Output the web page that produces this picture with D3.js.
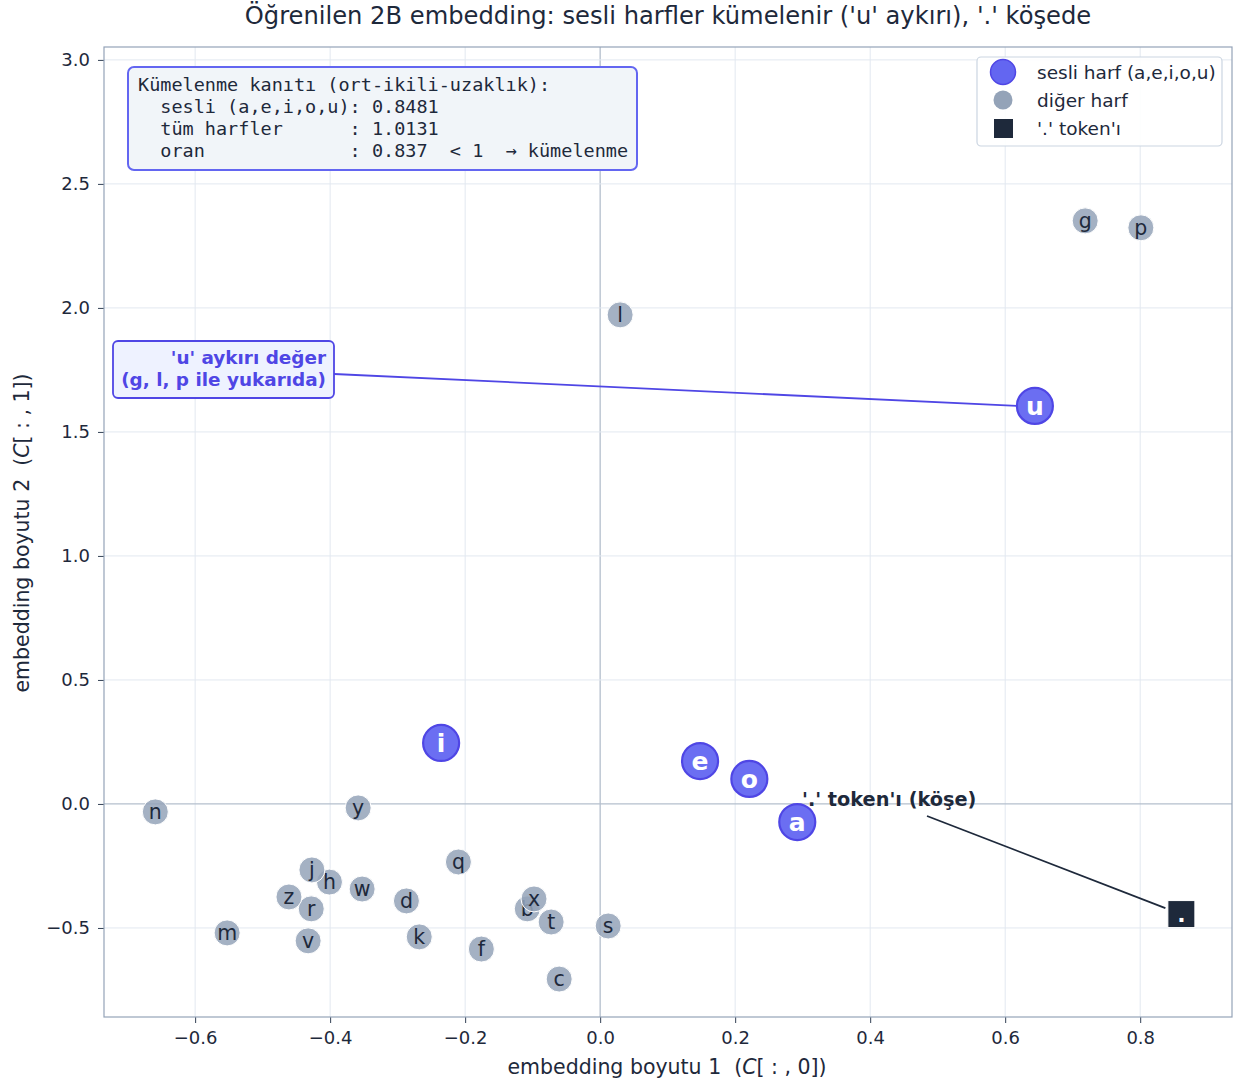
<!DOCTYPE html>
<html><head><meta charset="utf-8">
<script src="https://cdn.jsdelivr.net/npm/d3@7"></script>
<style>body{margin:0;background:#fff}svg{display:block}</style>
</head><body>
<script>
const letters = ["a","e","i","o","u","b","c","d","f","g","h","j","k","l","m","n","p","q","r","s","t","v","w","x","y","z","."];
const xs = [0.292,0.148,-0.2356,0.221,0.644,-0.108,-0.0607,-0.287,-0.176,0.7185,-0.401,-0.427,-0.268,0.0296,-0.5526,-0.659,0.801,-0.210,-0.428,0.0119,-0.0726,-0.4326,-0.3526,-0.098,-0.3585,-0.461,0.861];
const ys = [-0.073,0.173,0.246,0.101,1.605,-0.423,-0.706,-0.391,-0.585,2.351,-0.315,-0.266,-0.536,1.972,-0.520,-0.032,2.323,-0.234,-0.423,-0.492,-0.476,-0.552,-0.343,-0.383,-0.016,-0.375,-0.444];
const vowels = ["a","e","i","o","u"];
const xTicks = [-0.6,-0.4,-0.2,0.0,0.2,0.4,0.6,0.8];
const yTicks = [-0.5,0.0,0.5,1.0,1.5,2.0,2.5,3.0];
const xDomain = [-0.735,0.936];
const yDomain = [-0.859,3.052];
const boxLines = ["Kümelenme kanıtı (ort-ikili-uzaklık):","  sesli (a,e,i,o,u): 0.8481","  tüm harfler      : 1.0131","  oran             : 0.837  < 1  → kümelenme"];
const legendLabels = ["sesli harf (a,e,i,o,u)","diğer harf","'.' token'ı"];

const W=1235,H=1083;
const M={l:104,r:1232,t:47,b:1017};
const svg=d3.select("body").append("svg").attr("width",W).attr("height",H).style("font-family","DejaVu Sans");
const x=d3.scaleLinear().domain(xDomain).range([M.l,M.r]);
const y=d3.scaleLinear().domain(yDomain).range([M.b,M.t]);
const data=letters.map((c,i)=>({c,x:xs[i],y:ys[i]}));

// grid
svg.append("g").selectAll("line").data(xTicks).join("line")
 .attr("x1",d=>x(d)).attr("x2",d=>x(d)).attr("y1",M.t).attr("y2",M.b)
 .attr("stroke",d=>d===0?"#b4bfcd":"#e2e8f0").attr("stroke-width",d=>d===0?1.3:1);
svg.append("g").selectAll("line").data(yTicks).join("line")
 .attr("y1",d=>y(d)).attr("y2",d=>y(d)).attr("x1",M.l).attr("x2",M.r)
 .attr("stroke",d=>d===0?"#b4bfcd":"#e2e8f0").attr("stroke-width",d=>d===0?1.3:1);

// axes
const fmt=d=>d3.format(".1f")(d).replace("-","−");
const xa=svg.append("g").attr("transform",`translate(0,${M.b})`).call(d3.axisBottom(x).tickValues(xTicks).tickFormat(fmt).tickSize(6).tickPadding(8));
const ya=svg.append("g").attr("transform",`translate(${M.l},0)`).call(d3.axisLeft(y).tickValues(yTicks).tickFormat(fmt).tickSize(6).tickPadding(8));
[xa,ya].forEach(a=>{a.select(".domain").remove();a.selectAll("line").attr("stroke","#334155");a.selectAll("text").attr("font-size",18).attr("fill","#1e293b").attr("font-family","DejaVu Sans");});
svg.append("rect").attr("x",M.l).attr("y",M.t).attr("width",M.r-M.l).attr("height",M.b-M.t).attr("fill","none").attr("stroke","#94a3b8").attr("stroke-width",1.2);

// title & labels
svg.append("text").attr("x",668).attr("y",24).attr("text-anchor","middle").attr("font-size",24.2).attr("fill","#1e293b").text("Öğrenilen 2B embedding: sesli harfler kümelenir ('u' aykırı), '.' köşede");
const xl=svg.append("text").attr("x",667).attr("y",1074).attr("text-anchor","middle").attr("font-size",20.5).attr("fill","#1e293b").attr("xml:space","preserve").style("white-space","pre");
xl.append("tspan").text("embedding boyutu 1  (");xl.append("tspan").attr("font-style","italic").text("C");xl.append("tspan").text("[ : , 0])");
const yl=svg.append("text").attr("transform","translate(29,533) rotate(-90)").attr("text-anchor","middle").attr("font-size",20.5).attr("fill","#1e293b").attr("xml:space","preserve").style("white-space","pre");
yl.append("tspan").text("embedding boyutu 2  (");yl.append("tspan").attr("font-style","italic").text("C");yl.append("tspan").text("[ : , 1])");

// annotation lines (behind points)
const u=data.find(d=>d.c==="u"), dot=data.find(d=>d.c===".");
svg.append("line").attr("x1",334).attr("y1",374).attr("x2",x(u.x)-18).attr("y2",y(u.y)).attr("stroke","#4f46e5").attr("stroke-width",1.8);
svg.append("line").attr("x1",927).attr("y1",816).attr("x2",x(dot.x)-16).attr("y2",y(dot.y)-6).attr("stroke","#1e293b").attr("stroke-width",1.8);

// points
const others=data.filter(d=>!vowels.includes(d.c)&&d.c!==".");
const og=svg.append("g").selectAll("g").data(others).join("g").attr("transform",d=>`translate(${x(d.x)},${y(d.y)})`);
og.append("circle").attr("r",13).attr("fill","#94a3b8").attr("fill-opacity",0.85).attr("stroke","#fff").attr("stroke-width",1);
og.append("text").attr("text-anchor","middle").attr("dy","0.35em").attr("font-size",20.5).attr("fill","#1e293b").text(d=>d.c);

const vg=svg.append("g").selectAll("g").data(data.filter(d=>vowels.includes(d.c))).join("g").attr("transform",d=>`translate(${x(d.x)},${y(d.y)})`);
vg.append("circle").attr("r",18).attr("fill","#6366f1").attr("fill-opacity",0.95).attr("stroke","#4f46e5").attr("stroke-width",2.2);
vg.append("text").attr("text-anchor","middle").attr("dy","0.35em").attr("font-size",25).attr("font-weight","bold").attr("fill","#fff").text(d=>d.c);

const dg=svg.append("g").attr("transform",`translate(${x(dot.x)},${y(dot.y)})`);
dg.append("rect").attr("x",-13.5).attr("y",-13.5).attr("width",27).attr("height",27).attr("fill","#1e293b").attr("stroke","#fff").attr("stroke-width",1);
dg.append("text").attr("text-anchor","middle").attr("dy","0.35em").attr("font-size",22).attr("font-weight","bold").attr("fill","#fff").text(".");

// dot annotation text
svg.append("text").attr("x",802).attr("y",806).attr("font-size",19.3).attr("font-weight","bold").attr("fill","#1e293b").text("'.' token'ı (köşe)");

// u annotation box
svg.append("rect").attr("x",113).attr("y",341).attr("width",221).attr("height",57).attr("rx",5).attr("fill","#eef2ff").attr("stroke","#4f46e5").attr("stroke-width",1.8);
const ut=svg.append("text").attr("text-anchor","end").attr("font-size",18.4).attr("font-weight","bold").attr("fill","#4f46e5");
ut.append("tspan").attr("x",326).attr("y",364).text("'u' aykırı değer");
ut.append("tspan").attr("x",326).attr("y",386).text("(g, l, p ile yukarıda)");

// stats box
svg.append("rect").attr("x",128).attr("y",67).attr("width",509).attr("height",103).attr("rx",6).attr("fill","#f1f5f9").attr("stroke","#6366f1").attr("stroke-width",2);
svg.append("g").selectAll("text").data(boxLines).join("text")
 .attr("x",138).attr("y",(d,i)=>91+i*22).attr("font-family","DejaVu Sans Mono").attr("font-size",18.5).attr("fill","#1e293b")
 .attr("xml:space","preserve").style("white-space","pre").text(d=>d);

// legend
const lg=svg.append("g");
lg.append("rect").attr("x",977).attr("y",57).attr("width",245).attr("height",89).attr("rx",4).attr("fill","#fff").attr("fill-opacity",0.9).attr("stroke","#cbd5e1").attr("stroke-width",1.2);
lg.append("circle").attr("cx",1003).attr("cy",72).attr("r",12.5).attr("fill","#6366f1").attr("stroke","#4f46e5").attr("stroke-width",1.5);
lg.append("circle").attr("cx",1003).attr("cy",100).attr("r",9.5).attr("fill","#94a3b8");
lg.append("rect").attr("x",994).attr("y",119).attr("width",19).attr("height",19).attr("fill","#1e293b");
lg.selectAll("text.l").data(legendLabels).join("text").attr("class","l").attr("x",1037).attr("y",(d,i)=>79+i*28).attr("font-size",18.5).attr("fill","#1e293b").text(d=>d);
</script>
</body></html>
